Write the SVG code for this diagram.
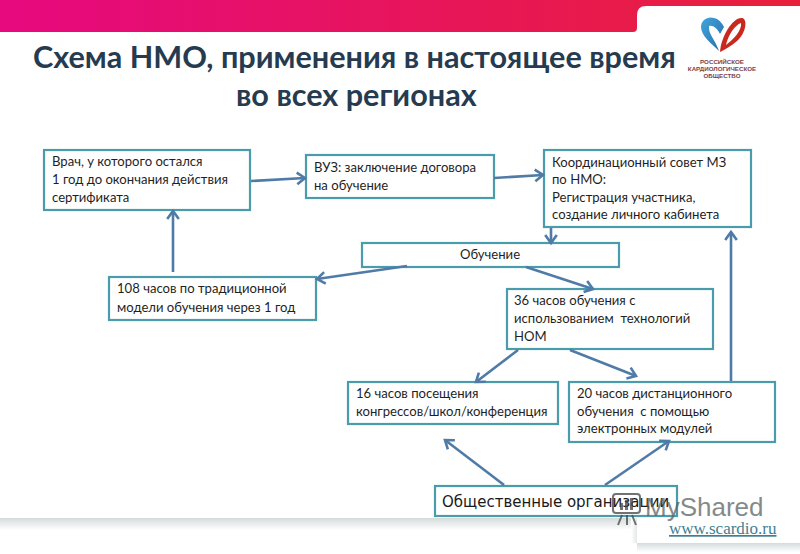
<svg xmlns="http://www.w3.org/2000/svg" width="800" height="554" viewBox="0 0 800 554">
<style>
.box{fill:#fff;stroke:#4b9cab;stroke-width:2.2}
.t{font-family:"Lato","Noto Sans","Liberation Sans",sans-serif;font-size:13.1px;fill:#1f1f1f}
.title{font-family:"Lato","Noto Sans",sans-serif;font-weight:700;font-size:30.6px;fill:#263b50}
.c{fill:none;stroke:#4f7ba6;stroke-width:2.6;marker-end:url(#a)}
.logo{font-family:"Liberation Sans",sans-serif;font-weight:700;font-size:6.2px;fill:#7d3f4a;text-anchor:middle}
</style>
<defs>
<marker id="a" markerUnits="userSpaceOnUse" markerWidth="16" markerHeight="16" refX="11" refY="8" orient="auto">
<path d="M3 2.2L11 8L3 13.8" fill="none" stroke="#4f7ba6" stroke-width="2.6"/>
</marker>
<linearGradient id="bar" x1="0" x2="1" y1="0" y2="0"><stop offset="0" stop-color="#e6097f"/><stop offset="1" stop-color="#e8203a"/></linearGradient>
<linearGradient id="sh" x1="0" x2="0" y1="0" y2="1"><stop offset="0" stop-color="#d5dbdb"/><stop offset="1" stop-color="#fff"/></linearGradient>
<linearGradient id="sv" x1="0" x2="1" y1="0" y2="0"><stop offset="0" stop-color="#fff"/><stop offset="1" stop-color="#e4e8e8"/></linearGradient>
<linearGradient id="bl" x1="0" x2="1" y1="0" y2="1"><stop offset="0" stop-color="#3fa6dc"/><stop offset="1" stop-color="#2a6da8"/></linearGradient>
</defs>
<rect width="800" height="554" fill="#fff"/>
<g id="background">
<path d="M0 0H800V6H646Q637 6 637 15V28Q637 32 633 32H0Z" fill="url(#bar)"/>
<rect x="0" y="518" width="637" height="12" fill="url(#sh)"/>
<rect x="631" y="518" width="6" height="25" fill="url(#sv)"/>
<rect x="637" y="543" width="163" height="9" fill="url(#sh)"/>
</g>
<g id="logo">
<path d="M719 51C712 44 701 36 701 27C701 20 708 16 714 18C719 19 722 23 724 27L720 34C717 28 713 25 709 26C708 34 716 41 719 51Z" fill="url(#bl)"/>
<path d="M720 52C721 36 733 17 742 18C748 19 746 33 737 41C731 46 726 49 720 52Z" fill="#c8281e"/>
<path d="M726 45C728 35 735 25 741 23C742 30 734 39 726 45Z" fill="#fff"/>
<text class="logo" x="722" y="64">РОССИЙСКОЕ</text>
<text class="logo" x="722" y="71">КАРДИОЛОГИЧЕСКОЕ</text>
<text class="logo" x="722" y="78">ОБЩЕСТВО</text>
</g>
<text class="title" x="33" y="68">Схема НМО, применения в настоящее время</text>
<text class="title" x="236" y="106">во всех регионах</text>
<g id="n1"><rect class="box" x="44" y="150" width="206" height="60"/>
<text class="t" x="52" y="166">Врач, у которого остался</text><text class="t" x="52" y="184">1 год до окончания действия</text><text class="t" x="52" y="202">сертификата</text></g>
<g id="n2"><rect class="box" x="306" y="155" width="188" height="43"/>
<text class="t" x="314" y="172">ВУЗ: заключение договора</text><text class="t" x="314" y="190">на обучение</text></g>
<g id="n3"><rect class="box" x="544" y="150" width="207" height="77"/>
<text class="t" x="552" y="167">Координационный совет МЗ</text><text class="t" x="552" y="184">по НМО:</text><text class="t" x="552" y="202">Регистрация участника,</text><text class="t" x="552" y="219">создание личного кабинета</text></g>
<g id="n4"><rect class="box" x="362" y="243" width="257" height="24"/>
<text class="t" x="460" y="259">Обучение</text></g>
<g id="n5"><rect class="box" x="109" y="277" width="207" height="43"/>
<text class="t" x="117" y="293">108 часов по традиционной</text><text class="t" x="117" y="312">модели обучения через 1 год</text></g>
<g id="n6"><rect class="box" x="507" y="289" width="206" height="60"/>
<text class="t" x="514" y="305">36 часов обучения с</text><text class="t" x="514" y="323" xml:space="preserve">использованием  технологий</text><text class="t" x="514" y="341">НОМ</text></g>
<g id="n7"><rect class="box" x="348" y="382" width="210" height="42"/>
<text class="t" x="356" y="398">16 часов посещения</text><text class="t" x="356" y="416">конгрессов/школ/конференция</text></g>
<g id="n8"><rect class="box" x="569" y="382" width="206" height="60"/>
<text class="t" x="577" y="398">20 часов дистанционного</text><text class="t" x="577" y="416" xml:space="preserve">обучения  с помощью</text><text class="t" x="577" y="433">электронных модулей</text></g>
<g id="n9"><rect class="box" x="435" y="486" width="242" height="30"/>
<text x="442" y="507" font-family="DejaVu Sans,sans-serif" font-size="15px" fill="#1a1a1a">Общественные организации</text></g>
<g id="connectors">
<path class="c" d="M251 181L305 178"/>
<path class="c" d="M494 178L543 175"/>
<path class="c" d="M551 228L551 243"/>
<path class="c" d="M407 266L317 279"/>
<path class="c" d="M526 267L593 289"/>
<path class="c" d="M173 272L173 211"/>
<path class="c" d="M518 350L476 382"/>
<path class="c" d="M570 350L636 376"/>
<path class="c" d="M731 381L731 232"/>
<path class="c" d="M504 485L445 440"/>
<path class="c" d="M605 485L669 441"/>
</g>
<g id="watermark" opacity="0.75">
<rect x="613" y="494" width="27" height="19" rx="3" fill="none" stroke="#444" stroke-width="2"/>
<rect x="620" y="503" width="3" height="7" fill="#444"/><rect x="625" y="500" width="3" height="10" fill="#444"/><rect x="630" y="498" width="3" height="12" fill="#444"/>
<path d="M622 515L618 525M627 515V525M632 515L636 525" stroke="#444" stroke-width="2" fill="none"/>
<text x="645" y="516" font-family="Liberation Sans,sans-serif" font-size="26px" fill="#5c6462">MyShared</text>
</g>
<text x="669" y="534" font-family="Liberation Serif,serif" font-size="17px" fill="#3f7f92" text-decoration="underline">www.scardio.ru</text>
</svg>
